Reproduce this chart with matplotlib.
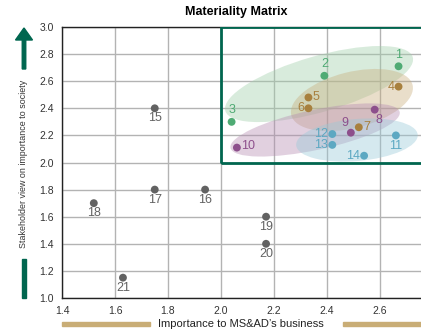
import matplotlib.pyplot as plt
from matplotlib.patches import Ellipse, Rectangle, FancyArrow
from matplotlib.transforms import ScaledTranslation

# Materiality issues: business importance (x) vs. stakeholder view (y)
issue_ids = [str(i) for i in range(1, 22)]
business = [2.67, 2.39, 2.04, 2.67, 2.33, 2.33, 2.52, 2.58, 2.49, 2.06, 2.66,
            2.42, 2.42, 2.54, 1.75, 1.94, 1.75, 1.52, 2.17, 2.17, 1.63]
society = [2.71, 2.64, 2.30, 2.56, 2.48, 2.40, 2.26, 2.39, 2.22, 2.11, 2.20,
           2.21, 2.13, 2.05, 2.40, 1.80, 1.80, 1.70, 1.60, 1.40, 1.15]
group = ['g', 'g', 'g', 'b', 'b', 'b', 'b', 'p', 'p', 'p', 'c',
         'c', 'c', 'c', 'k', 'k', 'k', 'k', 'k', 'k', 'k']

x_ticks = [1.4, 1.6, 1.8, 2.0, 2.2, 2.4, 2.6]
y_ticks = [1.0, 1.2, 1.4, 1.6, 1.8, 2.0, 2.2, 2.4, 2.6, 2.8, 3.0]

colors = {'g': '#4fab74', 'b': '#a8803e', 'p': '#8d4f8c', 'c': '#5ca8c2', 'k': '#626262'}
fills = {'g': '#9fcfa9', 'b': '#c8ad7c', 'p': '#b58bb1', 'c': '#98c9d8'}

# label offsets (points) for each issue number
offsets = {'1': (0, 4, 'center', 'bottom'), '2': (0, 4, 'center', 'bottom'),
           '3': (0, 4, 'center', 'bottom'), '4': (-3, 0, 'right', 'center'),
           '5': (3, 0, 'left', 'center'), '6': (-3, 0, 'right', 'center'),
           '7': (3, 0, 'left', 'center'), '8': (3, -3, 'center', 'top'),
           '9': (-2, 3, 'right', 'bottom'), '10': (3, 1, 'left', 'center'),
           '11': (0, -3, 'center', 'top'), '12': (-3, 0, 'right', 'center'),
           '13': (-3, 0, 'right', 'center'), '14': (-3, 0, 'right', 'center')}

# shaded clusters: centre (data), length/width (px), angle (deg)
clusters = [('g', 2.370, 2.579, 195, 56, 16),
            ('b', 2.494, 2.461, 125, 56, 14),
            ('p', 2.355, 2.240, 173, 40, 12),
            ('c', 2.513, 2.166, 122, 42, 5)]

plt.rcParams['font.family'] = ['Liberation Sans', 'DejaVu Sans']

fig = plt.figure(figsize=(4.21, 3.31), dpi=100)
ax = fig.add_axes([62 / 421, 33 / 331, 359 / 421, 271 / 331])
ax.set_xlim(1.4, 1.4 + 359 / 265)
ax.set_ylim(1.0, 3.0)
ax.set_xticks(x_ticks)
ax.set_yticks(y_ticks)
ax.set_xticklabels([f'{v:.1f}' for v in x_ticks], fontsize=7.5, color='#333333')
ax.set_yticklabels([f'{v:.1f}' for v in y_ticks], fontsize=7.5, color='#333333')
ax.tick_params(length=0, pad=6)
ax.grid(True, color='#b3b3b3', lw=1)
ax.set_axisbelow(True)
ax.spines['right'].set_visible(False)
for s in ['left', 'bottom', 'top']:
    ax.spines[s].set_color('#222222')
    ax.spines[s].set_linewidth(1)

for key, cx, cy, length, width, ang in clusters:
    tr = fig.dpi_scale_trans + ScaledTranslation(cx, cy, ax.transData)
    e = Ellipse((0, 0), length / 100, width / 100, angle=ang, transform=tr,
                facecolor=fills[key], alpha=0.4, edgecolor='none', zorder=1)
    ax.add_patch(e)

ax.add_patch(Rectangle((2.0, 2.0), 1.0, 1.0, fill=False, edgecolor='#00664f',
                       lw=2, zorder=4, clip_on=True))

for i, x, y, g in zip(issue_ids, business, society, group):
    ax.scatter(x, y, s=32, color=colors[g], zorder=5, edgecolors='none')
    dx, dy, ha, va = offsets.get(i, (0, -3, 'center', 'top'))
    ax.annotate(i, (x, y), xytext=(dx, dy), textcoords='offset points',
                ha=ha, va=va, fontsize=9, color=colors[g], zorder=6)

fig.text(236 / 421, 1 - 12 / 331, 'Materiality Matrix', ha='center', va='center',
         fontsize=9, fontweight='bold')

# axis titles with coloured bars and arrow
fig.text(24 / 421, 1 - 164 / 331, 'Stakeholder view on importance to society',
         rotation=90, ha='center', va='center', fontsize=6.4, color='#333333')
fig.add_artist(FancyArrow(24 / 421, 1 - 69 / 331, 0, 41 / 331, width=3.5 / 421,
                          head_width=17 / 421, head_length=12 / 331,
                          length_includes_head=True, color='#00664f',
                          transform=fig.transFigure))
fig.add_artist(Rectangle((22 / 421, 33 / 331), 4 / 421, 39 / 331,
                         color='#00664f', transform=fig.transFigure))

fig.text(241 / 421, 1 - 324 / 331, 'Importance to MS&AD\u2019s business',
         ha='center', va='center', fontsize=8, color='#222222')
gold = '#c9ad76'
fig.add_artist(Rectangle((62 / 421, 1 - 326 / 331), 88 / 421, 4 / 331,
                         color=gold, transform=fig.transFigure))
fig.add_artist(Rectangle((343 / 421, 1 - 326 / 331), 78 / 421, 4 / 331,
                         color=gold, transform=fig.transFigure))

fig.savefig('out.png', dpi=100)
